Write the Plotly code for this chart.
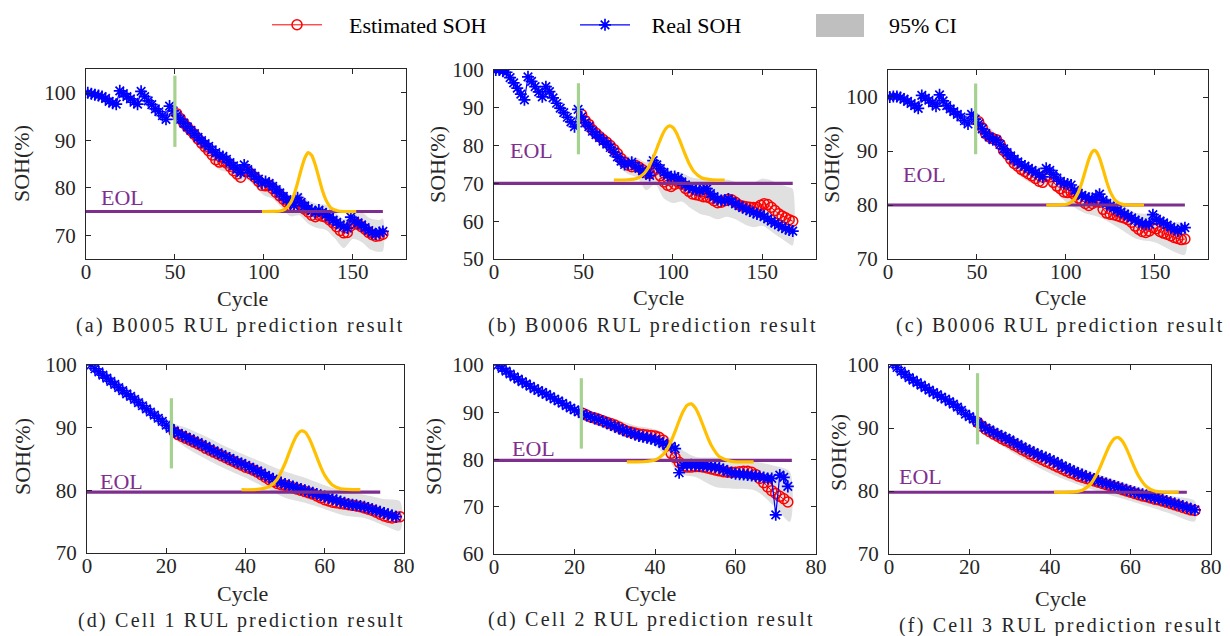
import plotly.graph_objects as go

FONT = "Liberation Serif"
W, H = 1230, 636
AX = "#262626"
RED = "#ff0000"
BLUE = "#0000ff"
BAND = "#e0e0e0"
EOLC = "#7e2f8e"
GREEN = "#a6d28f"
YEL = "#ffc000"

# ---------------- (a) B0005 ----------------
a_real_cycle = list(range(1, 168, 2))
a_real_soh = [100.0, 99.8, 99.6, 99.4, 99.2, 98.8, 98.2, 97.8, 97.6, 100.4,
              99.8, 99.2, 98.7, 98.0, 97.6, 100.3, 99.2, 98.3, 97.5, 96.6,
              96.0, 95.2, 94.4, 97.2, 96.2, 95.2, 94.4, 93.6, 92.8, 92.1,
              91.4, 90.6, 89.9, 89.3, 88.7, 88.0, 87.4, 86.7, 86.6, 86.0,
              85.3, 84.6, 83.9, 83.2, 84.8, 83.8, 83.1, 82.4, 81.8, 81.0,
              81.3, 80.9, 80.3, 79.6, 78.9, 78.2, 77.5, 76.9, 76.3, 77.9,
              76.9, 76.2, 75.6, 75.2, 74.8, 75.3, 74.8, 74.4, 73.8, 73.2,
              72.7, 72.2, 71.8, 71.5, 73.8, 73.0, 72.6, 72.2, 71.6, 71.0,
              70.6, 70.2, 70.6, 70.8]
a_est_cycle = list(range(51, 168, 2))
a_est_soh = [95.6, 94.6, 93.6, 92.8, 92.0, 91.2, 90.3, 89.4, 88.6, 87.8,
             86.9, 85.9, 85.4, 85.6, 85.2, 84.5, 83.6, 82.9, 82.2, 83.6,
             83.5, 82.8, 82.2, 81.4, 80.5, 80.4, 80.5, 79.8, 79.0, 78.3,
             77.6, 76.9, 76.2, 76.1, 76.9, 76.3, 75.5, 74.9, 74.2, 73.9,
             74.2, 74.0, 73.8, 73.2, 72.6, 71.8, 71.0, 70.5, 70.6, 72.0,
             72.6, 72.3, 71.8, 71.3, 70.6, 70.1, 69.8, 69.9, 70.2]
a_ci_cycle = [50, 55, 60, 65, 70, 75, 80, 85, 90, 95, 100, 105, 110, 115, 120,
              125, 130, 135, 140, 145, 150, 155, 160, 165, 167]
a_ci_upper = [96.8, 94.8, 92.9, 90.8, 88.8, 87.0, 86.5, 84.6, 85.4, 84.0, 82.3, 81.8,
              80.1, 78.4, 78.9, 77.3, 76.6, 76.4, 75.0, 73.4, 75.3, 74.9, 73.5, 73.2, 73.5]
a_ci_lower = [94.8, 92.4, 90.3, 88.0, 85.8, 83.8, 83.2, 81.2, 81.8, 80.3, 78.4, 77.7,
              75.8, 74.0, 74.2, 72.4, 71.5, 71.1, 69.3, 67.3, 69.2, 68.6, 67.0, 66.5, 66.7]
a_pdf_cycle = [99, 105, 109, 112, 115, 117, 119, 121, 123, 125, 127, 129, 131, 133, 135,
               138, 142, 146, 152]
a_pdf_soh = [75.0, 75.01, 75.1, 75.5, 76.8, 78.5, 81.0, 83.8, 86.2, 87.4, 86.8, 84.8,
             82.1, 79.4, 77.4, 75.7, 75.1, 75.0, 75.0]

# ---------------- (b) B0006 ----------------
b_real_cycle = list(range(1, 168, 2))
b_real_soh = [100.0, 100.0, 99.7, 99.4, 98.0, 96.6, 95.2, 93.6, 92.1, 98.2,
              97.0, 95.6, 94.2, 92.9, 95.6, 94.3, 92.6, 91.2, 89.9, 88.7,
              87.5, 86.3, 85.0, 89.6, 87.6, 86.0, 85.0, 83.8, 82.9, 82.1,
              81.2, 80.4, 79.5, 78.3, 77.0, 75.9, 75.0, 75.2, 75.6, 74.6,
              74.0, 73.3, 72.6, 72.1, 76.0, 74.9, 73.9, 72.9, 72.2, 71.6,
              71.8, 71.4, 70.4, 69.6, 69.0, 68.6, 68.3, 68.0, 68.5, 68.6,
              67.3, 66.5, 65.8, 65.5, 65.6, 65.9, 65.2, 64.6, 64.1, 63.6,
              63.2, 62.7, 62.3, 61.9, 61.8, 61.2, 60.6, 60.0, 59.5, 59.0,
              58.5, 58.0, 57.7, 57.4]
b_est_cycle = list(range(49, 168, 2))
b_est_soh = [88.2, 86.6, 85.6, 84.2, 83.3, 82.4, 81.6, 80.9, 80.0, 79.0,
             77.9, 76.6, 75.6, 74.8, 74.4, 74.8, 74.3, 73.6, 72.8, 72.6,
             73.3, 73.8, 72.0, 70.4, 69.5, 69.2, 69.8, 70.3, 69.8, 68.7,
             67.9, 67.2, 67.0, 66.8, 66.5, 66.4, 66.1, 65.4, 64.9, 65.0,
             65.4, 65.8, 65.6, 65.0, 64.3, 64.0, 63.8, 63.7, 63.6, 63.6,
             64.2, 64.6, 64.4, 63.7, 62.8, 62.0, 61.4, 60.9, 60.4, 60.0]
b_ci_cycle = [48, 55, 60, 65, 70, 75, 80, 85, 90, 95, 100, 105, 110, 115, 120,
              125, 130, 135, 140, 145, 150, 155, 160, 165, 167]
b_ci_upper = [89.5, 85.6, 83.6, 81.6, 79.3, 77.2, 76.8, 75.6, 76.2, 74.0, 73.2, 72.8,
              71.6, 71.2, 71.5, 70.5, 71.0, 70.4, 70.0, 70.2, 71.3, 70.8, 69.8, 69.0, 68.6]
b_ci_lower = [87.0, 82.4, 80.2, 78.2, 74.4, 72.4, 71.5, 68.2, 69.8, 66.0, 64.8, 65.2,
              63.4, 62.0, 61.4, 60.5, 61.2, 60.5, 59.2, 58.4, 58.8, 57.3, 55.6, 54.0, 53.6]
b_pdf_cycle = [67, 75, 80, 84, 87, 90, 92, 94, 96, 98, 100, 102, 104, 106, 109,
               112, 116, 122, 129]
b_pdf_soh = [70.9, 70.96, 71.37, 72.67, 74.79, 77.98, 80.44, 82.74, 84.45, 85.2,
             84.79, 83.34, 81.17, 78.71, 75.35, 73.0, 71.49, 70.94, 70.9]

# ---------------- (c) B0006 ----------------
c_real_cycle = list(range(1, 168, 2))
c_real_soh = [100.0, 100.1, 100.1, 99.9, 99.6, 99.2, 98.8, 98.4, 97.9, 100.3,
              99.8, 99.4, 98.9, 98.3, 100.4, 99.3, 98.4, 97.8, 97.3, 96.8,
              96.3, 95.6, 95.0, 96.8, 95.9, 95.0, 94.1, 93.2, 92.6, 92.1,
              92.0, 91.2, 90.4, 89.7, 89.1, 88.5, 88.0, 87.5, 87.2, 86.8,
              86.4, 86.0, 85.6, 85.2, 86.8, 86.4, 85.7, 85.0, 84.4, 84.0,
              83.9, 83.7, 82.7, 82.2, 81.8, 81.5, 81.2, 81.0, 81.5, 82.0,
              80.9, 80.3, 79.8, 79.5, 79.0, 78.7, 78.3, 78.0, 77.6, 77.2,
              76.9, 76.6, 76.4, 76.5, 78.2, 77.4, 77.0, 76.7, 76.3, 75.9,
              75.5, 75.2, 75.6, 75.8]
c_est_cycle = list(range(51, 168, 2))
c_est_soh = [95.4, 94.3, 93.2, 92.6, 92.3, 92.1, 91.3, 90.1, 89.4, 88.5,
             87.7, 87.2, 86.6, 86.2, 85.8, 85.4, 84.9, 84.4, 84.2, 85.3,
             85.2, 84.2, 83.5, 83.0, 82.4, 82.3, 82.4, 81.9, 81.3, 80.8,
             80.3, 79.9, 80.3, 80.6, 80.5, 79.2, 78.5, 78.3, 78.2, 78.0,
             77.8, 77.6, 77.3, 76.8, 76.1, 75.5, 75.1, 74.9, 75.2, 75.8,
             75.6, 75.1, 74.8, 74.6, 74.3, 74.0, 73.8, 73.6, 73.7]
c_ci_cycle = [50, 60, 70, 80, 90, 100, 110, 120, 130, 140, 150, 160, 167]
c_ci_upper = [96.8, 93.4, 89.5, 87.2, 87.0, 84.2, 82.6, 82.0, 80.3, 78.5, 78.3, 76.9, 76.5]
c_ci_lower = [94.6, 91.0, 86.7, 84.1, 83.6, 80.6, 78.6, 77.6, 75.7, 73.7, 73.1, 71.5, 70.8]
c_pdf_cycle = [89, 96, 101, 104, 107, 109, 111, 113, 115, 116, 117, 119, 121, 123, 125,
               128, 132, 137, 144]
c_pdf_soh = [80.0, 80.01, 80.17, 80.75, 82.31, 84.12, 86.35, 88.51, 89.89, 90.1, 89.96,
             88.7, 86.59, 84.33, 82.47, 80.81, 80.11, 80.0, 80.0]

# ---------------- (d) Cell 1 ----------------
d_real_cycle = list(range(1, 79))
d_real_soh = [100.0, 99.4, 98.9, 98.4, 97.9, 97.4, 96.9, 96.4, 95.9, 95.4,
              95.0, 94.5, 94.0, 93.5, 93.0, 92.5, 92.0, 91.5, 91.0, 90.4,
              89.9, 89.5, 89.1, 88.8, 88.5, 88.2, 87.9, 87.6, 87.3, 87.0,
              86.6, 86.3, 86.0, 85.7, 85.4, 85.1, 84.8, 84.5, 84.3, 84.0,
              83.7, 83.4, 83.1, 82.8, 82.4, 82.1, 81.8, 81.5, 81.2, 81.0,
              80.8, 80.6, 80.4, 80.2, 80.0, 79.8, 79.6, 79.4, 79.2, 79.0,
              78.8, 78.6, 78.4, 78.2, 78.0, 77.8, 77.7, 77.6, 77.5, 77.4,
              77.2, 77.0, 76.8, 76.6, 76.4, 76.2, 76.0, 75.8]
d_est_cycle = list(range(22, 80))
d_est_soh = [89.3, 88.9, 88.6, 88.3, 88.0, 87.7, 87.4, 87.1, 86.7, 86.4,
             86.1, 85.8, 85.5, 85.2, 84.9, 84.6, 84.3, 84.0, 83.7, 83.5,
             83.2, 82.9, 82.5, 82.1, 81.7, 81.4, 81.1, 80.9, 80.8, 80.6,
             80.4, 80.2, 80.0, 79.8, 79.6, 79.4, 79.1, 78.8, 78.5, 78.3,
             78.1, 78.0, 77.9, 77.8, 77.7, 77.6, 77.5, 77.4, 77.2, 77.0,
             76.8, 76.5, 76.2, 75.9, 75.7, 75.6, 75.7, 75.8]
d_ci_cycle = [21, 25, 30, 35, 40, 45, 50, 55, 60, 65, 70, 75, 79]
d_ci_upper = [90.8, 90.0, 88.6, 87.0, 85.6, 84.3, 83.0, 82.0, 80.8, 79.8, 79.3, 78.6, 78.2]
d_ci_lower = [88.8, 86.8, 85.0, 83.4, 82.0, 80.4, 78.8, 78.0, 77.0, 76.0, 75.6, 74.4, 73.6]
d_pdf_cycle = [39, 43, 46, 48, 50, 51, 52, 53, 54, 55, 56, 57, 58, 59, 60, 62, 64, 69]
d_pdf_soh = [80.1, 80.14, 80.58, 81.78, 84.32, 85.97, 87.57, 88.83, 89.46, 89.30, 88.39,
             86.95, 85.30, 83.71, 82.40, 80.82, 80.26, 80.1]

# ---------------- (e) Cell 2 ----------------
e_real_cycle = list(range(1, 74))
e_real_soh = [100.0, 99.3, 98.7, 98.1, 97.5, 97.0, 96.5, 96.0, 95.5, 95.0,
              94.6, 94.2, 93.8, 93.3, 92.8, 92.4, 91.9, 91.4, 90.9, 90.5,
              90.1, 89.7, 89.3, 89.0, 88.7, 88.4, 88.1, 87.7, 87.3, 87.0,
              86.6, 86.2, 85.9, 85.6, 85.3, 85.0, 84.8, 84.6, 84.4, 84.2,
              83.8, 83.4, 83.0, 82.8, 82.3, 77.2, 78.8, 78.8, 78.9, 78.8,
              78.7, 78.7, 78.6, 78.5, 78.4, 78.2, 77.9, 77.5, 77.2, 77.0,
              76.9, 76.8, 76.7, 76.6, 76.5, 76.4, 76.2, 76.0, 76.0, 68.3,
              76.7, 76.2, 74.3]
e_est_cycle = list(range(22, 74))
e_est_soh = [89.8, 89.4, 89.0, 88.8, 88.5, 88.2, 87.9, 87.6, 87.3, 86.9,
             86.4, 86.0, 85.8, 85.6, 85.4, 85.3, 85.2, 85.1, 85.0, 84.7,
             84.1, 82.9, 81.3, 80.4, 79.4, 78.6, 78.4, 78.4, 78.5, 78.5,
             78.4, 78.2, 78.0, 77.8, 77.6, 77.4, 77.3, 77.3, 77.3, 77.4,
             77.5, 77.5, 77.3, 76.8, 76.0, 75.1, 74.2, 73.4, 72.8, 72.2,
             71.7, 71.0]
e_ci_cycle = [21, 25, 30, 35, 40, 43, 46, 50, 55, 60, 65, 70, 73.5]
e_ci_upper = [90.6, 89.8, 88.6, 87.2, 86.4, 85.0, 82.5, 80.6, 80.4, 79.6, 79.5, 78.6, 77.4]
e_ci_lower = [89.0, 87.4, 85.6, 84.0, 82.8, 80.5, 77.0, 76.3, 74.2, 73.8, 73.4, 69.8, 66.8]
e_pdf_cycle = [33, 37, 40, 42, 43, 44, 45, 46, 47, 48, 49, 50, 51, 52, 53, 54, 56, 59, 64.5]
e_pdf_soh = [79.5, 79.52, 79.87, 81.02, 82.2, 83.87, 85.96, 88.2, 90.19, 91.49, 91.76,
             90.95, 89.25, 87.08, 84.87, 82.97, 80.6, 79.6, 79.5]

# ---------------- (f) Cell 3 ----------------
f_real_cycle = list(range(1, 77))
f_real_soh = [100.2, 99.6, 99.0, 98.5, 98.0, 97.6, 97.2, 96.8, 96.4, 96.0,
              95.6, 95.3, 94.9, 94.6, 94.2, 93.8, 93.3, 92.8, 92.2, 91.8,
              91.4, 90.9, 90.4, 90.0, 89.7, 89.3, 89.0, 88.7, 88.4, 88.1,
              87.7, 87.4, 87.0, 86.7, 86.4, 86.1, 85.8, 85.5, 85.3, 85.0,
              84.7, 84.4, 84.0, 83.7, 83.4, 83.1, 82.8, 82.6, 82.3, 82.1,
              81.9, 81.6, 81.4, 81.2, 81.0, 80.8, 80.6, 80.4, 80.2, 80.0,
              79.8, 79.6, 79.5, 79.3, 79.1, 78.9, 78.8, 78.6, 78.4, 78.2,
              78.0, 77.8, 77.6, 77.4, 77.2, 77.0]
f_est_cycle = list(range(22, 77))
f_est_soh = [90.9, 90.3, 89.8, 89.4, 89.0, 88.7, 88.3, 88.0, 87.7, 87.3,
             87.0, 86.6, 86.3, 85.9, 85.6, 85.3, 85.0, 84.7, 84.4, 84.1,
             83.8, 83.5, 83.2, 82.9, 82.7, 82.4, 82.2, 82.0, 81.8, 81.6,
             81.4, 81.2, 81.0, 80.8, 80.6, 80.4, 80.2, 80.0, 79.8, 79.6,
             79.4, 79.2, 79.1, 78.9, 78.7, 78.6, 78.4, 78.2, 78.0, 77.8,
             77.6, 77.4, 77.2, 77.0, 76.9]
f_ci_cycle = [22, 30, 40, 50, 60, 70, 76]
f_ci_upper = [91.7, 89.0, 85.8, 83.1, 81.0, 79.2, 78.4]
f_ci_lower = [90.0, 86.4, 82.8, 80.3, 78.4, 76.4, 75.2]
f_pdf_cycle = [41, 45, 48, 50, 52, 53, 54, 55, 56, 57, 58, 59, 60, 61, 62, 64, 66, 69, 72]
f_pdf_soh = [79.8, 79.82, 80.13, 81.05, 83.14, 84.61, 86.14, 87.47, 88.32, 88.47, 87.88,
             86.72, 85.23, 83.71, 82.38, 80.67, 80.0, 79.8, 79.8]

# ---------------- per-panel settings ----------------
eol_level = [75, 70, 80, 79.7, 79.8, 79.8]
eol_end = [167, 167, 167, 74, 74, 74]
start_cycle = [50, 47.2, 49.3, 21.3, 21.7, 22]
start_bar_low = [88.6, 77.7, 89.4, 83.5, 82.3, 87.4]
start_bar_high = [103.6, 96.5, 102.5, 94.7, 97.2, 98.7]
eol_text_x = [20.5, 21, 20.6, 8.8, 9.8, 7.9]
eol_text_y = [78.0, 78.6, 85.7, 81.4, 82.3, 82.3]
captions = ["(a) B0005 RUL prediction result", "(b) B0006 RUL prediction result",
            "(c) B0006 RUL prediction result", "(d) Cell 1 RUL prediction result",
            "(d) Cell 2 RUL prediction result", "(f) Cell 3 RUL prediction result"]
x_ranges = [[0, 180], [0, 180], [0, 180], [0, 80], [0, 80], [0, 80]]
y_ranges = [[65, 105], [50, 100], [70, 105], [70, 100], [60, 100], [70, 100]]
x_ticks = [[0, 50, 100, 150]] * 3 + [[0, 20, 40, 60, 80]] * 3
y_ticks = [[70, 80, 90, 100], [50, 60, 70, 80, 90, 100], [70, 80, 90, 100],
           [70, 80, 90, 100], [60, 70, 80, 90, 100], [70, 80, 90, 100]]

# pixel layout of each plot box (left, right, top, bottom)
boxes = [(86, 406, 69, 259), (494, 816, 70, 259), (888, 1208, 70, 259),
         (87, 404, 365, 553), (494, 816, 365, 554), (889, 1211, 365, 554)]
ytitle_pos = [(22, 164), (437, 165), (831, 165), (22, 457), (433, 457), (838, 453)]
xtitle_pos = [(242, 298), (658, 297), (1060, 297), (242, 593), (650, 593), (1060, 598)]
caption_pos = [(240, 325), (653, 325), (1060, 325), (241, 620), (651, 619), (1061, 625)]

panels = [
    (a_real_cycle, a_real_soh, a_est_cycle, a_est_soh, a_ci_cycle, a_ci_upper, a_ci_lower, a_pdf_cycle, a_pdf_soh),
    (b_real_cycle, b_real_soh, b_est_cycle, b_est_soh, b_ci_cycle, b_ci_upper, b_ci_lower, b_pdf_cycle, b_pdf_soh),
    (c_real_cycle, c_real_soh, c_est_cycle, c_est_soh, c_ci_cycle, c_ci_upper, c_ci_lower, c_pdf_cycle, c_pdf_soh),
    (d_real_cycle, d_real_soh, d_est_cycle, d_est_soh, d_ci_cycle, d_ci_upper, d_ci_lower, d_pdf_cycle, d_pdf_soh),
    (e_real_cycle, e_real_soh, e_est_cycle, e_est_soh, e_ci_cycle, e_ci_upper, e_ci_lower, e_pdf_cycle, e_pdf_soh),
    (f_real_cycle, f_real_soh, f_est_cycle, f_est_soh, f_ci_cycle, f_ci_upper, f_ci_lower, f_pdf_cycle, f_pdf_soh),
]

fig = go.Figure()
layout_axes = {}
annotations = []

for i, (rc, rs, ec, es, cc, cu, cl, pc, ps) in enumerate(panels):
    n = i + 1
    xa = "x" if n == 1 else f"x{n}"
    ya = "y" if n == 1 else f"y{n}"
    # confidence band
    fig.add_trace(go.Scatter(x=cc + cc[::-1], y=cu + cl[::-1], xaxis=xa, yaxis=ya,
                             mode="lines", fill="toself", fillcolor=BAND,
                             line=dict(width=0, shape="spline", smoothing=0.8),
                             showlegend=False, hoverinfo="skip"))
    # estimated SOH
    fig.add_trace(go.Scatter(x=ec, y=es, xaxis=xa, yaxis=ya, mode="lines+markers",
                             name="\u00a0\u00a0\u00a0\u00a0Estimated SOH",
                             line=dict(color=RED, width=1),
                             marker=dict(symbol="circle-open", size=10, color=RED,
                                         line=dict(width=1.5, color=RED)),
                             showlegend=(n == 1), legendrank=1))
    # real SOH
    fig.add_trace(go.Scatter(x=rc, y=rs, xaxis=xa, yaxis=ya, mode="lines+markers",
                             name="\u00a0\u00a0\u00a0Real SOH",
                             line=dict(color=BLUE, width=1.2),
                             marker=dict(symbol="asterisk-open", size=10, color=BLUE,
                                         line=dict(width=1.7, color=BLUE)),
                             showlegend=(n == 1), legendrank=2))
    # EOL threshold line
    fig.add_trace(go.Scatter(x=[0, eol_end[i]], y=[eol_level[i], eol_level[i]],
                             xaxis=xa, yaxis=ya, mode="lines",
                             line=dict(color=EOLC, width=3.2),
                             showlegend=False, hoverinfo="skip"))
    # prediction start bar
    fig.add_trace(go.Scatter(x=[start_cycle[i], start_cycle[i]],
                             y=[start_bar_low[i], start_bar_high[i]],
                             xaxis=xa, yaxis=ya, mode="lines",
                             line=dict(color=GREEN, width=3.2),
                             showlegend=False, hoverinfo="skip"))
    # RUL pdf
    fig.add_trace(go.Scatter(x=pc, y=ps, xaxis=xa, yaxis=ya, mode="lines",
                             line=dict(color=YEL, width=3.2, shape="spline", smoothing=0.6),
                             showlegend=False, hoverinfo="skip"))

    l, r, t, b = boxes[i]
    common = dict(showline=True, linecolor=AX, linewidth=1, mirror="ticks",
                  ticks="inside", ticklen=5, tickwidth=1, tickcolor=AX,
                  showgrid=False, zeroline=False, automargin=False,
                  tickfont=dict(family=FONT, size=21, color=AX))
    layout_axes["xaxis" if n == 1 else f"xaxis{n}"] = dict(
        domain=[l / W, r / W], range=x_ranges[i], tickvals=x_ticks[i],
        anchor=ya, ticklabelstandoff=-6, **common)
    layout_axes["yaxis" if n == 1 else f"yaxis{n}"] = dict(
        domain=[1 - b / H, 1 - t / H], range=y_ranges[i], tickvals=y_ticks[i],
        anchor=xa, ticklabelstandoff=5, **common)

    annotations.append(dict(x=eol_text_x[i], y=eol_text_y[i], xref=xa, yref=ya,
                            xanchor="center", yanchor="middle",
                            text="EOL", showarrow=False,
                            font=dict(family=FONT, size=22, color=EOLC)))
    yx, yy = ytitle_pos[i]
    annotations.append(dict(x=yx / W, y=1 - yy / H, xref="paper", yref="paper",
                            xanchor="center", yanchor="middle",
                            text="SOH(%)", textangle=-90, showarrow=False,
                            font=dict(family=FONT, size=22, color=AX)))
    xx, xy = xtitle_pos[i]
    annotations.append(dict(x=xx / W, y=1 - xy / H, xref="paper", yref="paper",
                            xanchor="center", yanchor="middle",
                            text="Cycle", showarrow=False,
                            font=dict(family=FONT, size=22, color=AX)))
    cx, cy = caption_pos[i]
    annotations.append(dict(x=cx / W, y=1 - cy / H, xref="paper", yref="paper",
                            xanchor="center", yanchor="middle",
                            text='<span style="letter-spacing:2.2px">' + captions[i] + "</span>",
                            showarrow=False,
                            font=dict(family=FONT, size=20, color=AX)))

# manual legend entry for the confidence band
annotations.append(dict(x=887 / W, y=1 - 25 / H, xref="paper", yref="paper",
                        xanchor="left", yanchor="middle", text="95% CI", showarrow=False,
                        font=dict(family=FONT, size=22, color="#000000")))
shapes = [dict(type="rect", xref="paper", yref="paper",
               x0=816 / W, x1=864 / W, y0=1 - 37 / H, y1=1 - 14 / H,
               fillcolor="#bfbfbf", line=dict(width=0))]

fig.update_layout(
    width=W, height=H, margin=dict(l=0, r=0, t=0, b=0, pad=0, autoexpand=False),
    paper_bgcolor="white", plot_bgcolor="white",
    font=dict(family=FONT, size=20, color=AX),
    showlegend=True,
    legend=dict(orientation="h", x=267 / W, y=1 - 25 / H, xanchor="left", yanchor="middle",
                itemwidth=50, entrywidth=243, entrywidthmode="pixels",
                font=dict(family=FONT, size=22, color="#000000"),
                bgcolor="rgba(0,0,0,0)", borderwidth=0, traceorder="normal"),
    annotations=annotations, shapes=shapes,
    **layout_axes,
)

fig.write_html("out.html")
